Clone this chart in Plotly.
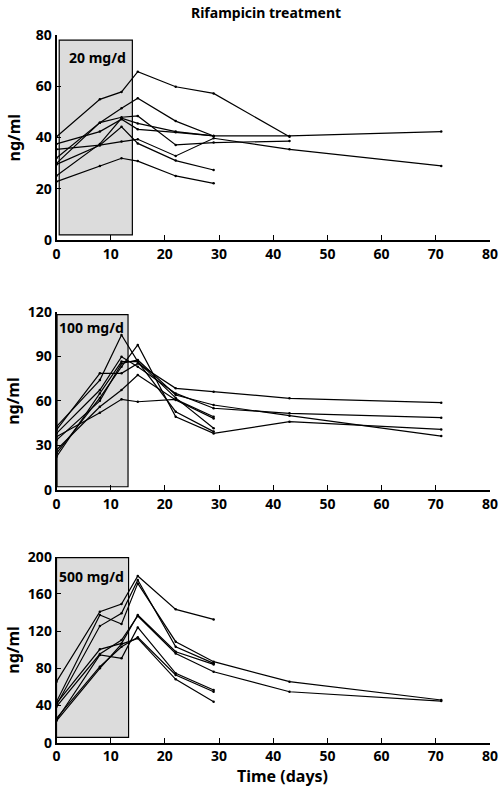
import plotly.graph_objects as go

days = [0, 8, 12, 15, 22, 29, 43, 71]

# 20 mg/d panel (ng/ml)
p1_a = [40.3, 54.9, 57.8, 65.7, 59.8, 57.2, 40.3, None]
p1_b = [32.0, 45.8, 51.4, 55.3, 46.4, 40.6, None, None]
p1_c = [37.5, 42.3, 47.1, 43.2, 42.0, 40.6, 40.6, 42.3]
p1_d = [29.9, 45.8, 47.9, 48.4, 37.1, 38.0, 38.6, None]
p1_e = [35.4, 37.0, 38.4, 39.3, 32.8, 39.7, 35.4, 28.9]
p1_f = [25.1, 37.5, 47.5, 45.5, 42.3, 40.6, None, None]
p1_g = [29.5, 37.0, 44.2, 37.7, 31.0, 27.3, None, None]
p1_h = [22.8, 28.9, 31.9, 30.8, 25.0, 22.1, None, None]

# 100 mg/d panel
p2_a = [42.6, 74.0, 104.3, 86.4, 62.0, 41.5, None, None]
p2_b = [24.7, 62.0, 83.0, 97.6, 49.3, 38.1, 46.0, 40.8]
p2_c = [40.4, 78.5, 78.5, 85.2, 68.4, 66.2, 61.7, 58.8]
p2_d = [38.1, 67.3, 89.7, 83.0, 65.0, 55.0, 51.6, 48.7]
p2_e = [33.6, 60.0, 85.2, 87.5, 63.9, 57.2, 50.0, 36.3]
p2_f = [35.9, 52.0, 61.0, 59.4, 61.0, 49.3, None, None]
p2_g = [26.9, 56.0, 67.3, 77.4, 60.6, 48.2, None, None]
p2_h = [22.4, 65.0, 86.4, 86.4, 52.7, 39.3, None, None]

# 500 mg/d panel
p3_a = [65.6, 140.9, 149.1, 179.2, 143.4, 132.6, None, None]
p3_b = [44.0, 137.3, 127.6, 171.3, 108.6, 87.1, 65.6, 45.9]
p3_c = [40.5, 125.4, 139.1, 174.9, 103.2, 85.3, None, None]
p3_d = [42.3, 100.4, 106.8, 137.3, 97.8, 84.2, None, None]
p3_e = [38.7, 95.3, 110.4, 136.2, 96.0, 76.3, 54.8, 44.8]
p3_f = [24.4, 94.3, 90.7, 124.0, 74.6, 56.6, None, None]
p3_g = [26.2, 81.7, 103.2, 113.3, 72.8, 54.8, None, None]
p3_h = [23.5, 80.0, 106.0, 112.2, 68.1, 44.0, None, None]

panels = [
    dict(series=[p1_a, p1_b, p1_c, p1_d, p1_e, p1_f, p1_g, p1_h],
         label="20 mg/d", ymax=80, dtick=20, shade=(0.5, 14.0, 2, 78), lab_y=71.4, lab_x=7.5),
    dict(series=[p2_a, p2_b, p2_c, p2_d, p2_e, p2_f, p2_g, p2_h],
         label="100 mg/d", ymax=120, dtick=30, shade=(0.1, 13.2, 2.2, 118), lab_y=109.2, lab_x=6.5),
    dict(series=[p3_a, p3_b, p3_c, p3_d, p3_e, p3_f, p3_g, p3_h],
         label="500 mg/d", ymax=200, dtick=40, shade=(0.0, 13.3, 5.7, 199), lab_y=179.2, lab_x=6.5),
]

W, H = 500, 789
# pixel extents of each panel (top, bottom)
pix = [(35, 240), (311.7, 490), (556.7, 742.7)]
x_left, x_right = 56.5, 490

FONT = "Noto Sans"
fig = go.Figure()
shapes = []
annotations = []

for i, p in enumerate(panels):
    n = "" if i == 0 else str(i + 1)
    xa, ya = "x" + n, "y" + n
    for s in p["series"]:
        fig.add_trace(go.Scatter(
            x=days, y=s, xaxis=xa, yaxis=ya, mode="lines+markers",
            line=dict(color="black", width=1.2),
            marker=dict(color="black", size=2.5),
            showlegend=False, hoverinfo="x+y"))
    top, bot = pix[i]
    dom = [1 - bot / H, 1 - top / H]
    axcommon = dict(showline=True, linecolor="black", linewidth=1.6,
                    ticks="inside", ticklen=5, tickwidth=1.3, tickcolor="black",
                    showgrid=False, zeroline=False, automargin=False,
                    tickfont=dict(family=FONT, size=14, color="black", weight="bold"))
    fig.update_layout(**{
        "xaxis" + n: dict(domain=[x_left / W, x_right / W], range=[0, 80], dtick=10,
                          anchor=ya, **axcommon),
        "yaxis" + n: dict(domain=dom, range=[0, p["ymax"]], dtick=p["dtick"],
                          anchor=xa, **axcommon),
    })
    x0, x1, y0, y1 = p["shade"]
    shapes.append(dict(type="rect", xref=xa, yref=ya, x0=x0, x1=x1, y0=y0, y1=y1,
                       fillcolor="#dcdcdc", line=dict(color="black", width=1.2),
                       layer="below"))
    annotations.append(dict(x=p["lab_x"], y=p["lab_y"], xref=xa, yref=ya,
                            text="<b>" + p["label"] + "</b>", showarrow=False,
                            font=dict(family=FONT, size=14, color="black")))
    annotations.append(dict(x=13 / W, y=1 - (top + bot) / 2 / H, xref="paper", yref="paper",
                            xanchor="center", yanchor="middle",
                            text="<b>ng/ml</b>", textangle=-90, showarrow=False,
                            font=dict(family=FONT, size=16, color="black")))

annotations.append(dict(x=266 / W, y=1 - 12 / H, xref="paper", yref="paper",
                        xanchor="center", yanchor="middle",
                        text="<b>Rifampicin treatment</b>", showarrow=False,
                        font=dict(family=FONT, size=14, color="black")))
annotations.append(dict(x=282 / W, y=1 - 776 / H, xref="paper", yref="paper",
                        xanchor="center", yanchor="middle",
                        text="<b>Time (days)</b>", showarrow=False,
                        font=dict(family=FONT, size=16, color="black")))

fig.update_layout(width=W, height=H,
                  margin=dict(l=0, r=0, t=0, b=0, pad=0, autoexpand=False),
                  paper_bgcolor="white", plot_bgcolor="white",
                  shapes=shapes, annotations=annotations)

fig.write_html("out.html", config={"displayModeBar": False},
               post_script="document.body.style.margin='0';"
                           "document.body.style.overflow='hidden';")
